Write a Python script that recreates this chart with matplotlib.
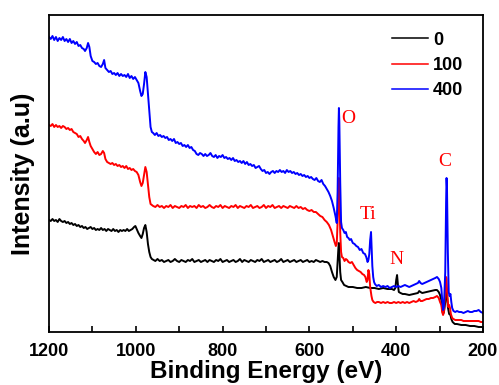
import matplotlib
matplotlib.use("Agg")
import matplotlib.pyplot as plt
from matplotlib.ticker import MultipleLocator

# ---------------- data ----------------
series_labels = ["0", "100", "400"]
series_colors = ["black", "red", "blue"]

e_400 = [1200, 1196, 1192, 1188, 1184, 1180, 1176, 1172, 1168, 1164, 1160, 1156, 1152, 1148, 1144,
         1140, 1136, 1132, 1128, 1124, 1120, 1117, 1113, 1110, 1107, 1104, 1100, 1096, 1092, 1088,
         1084, 1080, 1076, 1073, 1070, 1066, 1062, 1058, 1054, 1050, 1046, 1042, 1038, 1034, 1030,
         1026, 1022, 1018, 1014, 1010, 1006, 1002, 998, 994, 990, 987, 984, 981, 978, 975, 972, 969,
         966, 963, 960, 956, 952, 948, 944, 940, 936, 932, 928, 924, 920, 916, 912, 908, 904, 900,
         896, 892, 888, 884, 880, 876, 872, 868, 864, 860, 856, 852, 848, 844, 840, 836, 832, 828,
         824, 820, 816, 812, 808, 804, 800, 796, 792, 788, 784, 780, 776, 772, 768, 764, 760, 756,
         752, 748, 744, 740, 736, 732, 728, 724, 720, 716, 712, 708, 704, 700, 696, 692, 688, 684,
         680, 676, 672, 668, 664, 660, 656, 652, 648, 644, 640, 636, 632, 628, 624, 620, 616, 612,
         608, 604, 600, 596, 592, 588, 584, 580, 576, 572, 568, 564, 560, 556, 552, 548, 544, 540,
         537, 535, 533, 532, 531, 529, 527, 525, 522, 519, 516, 513, 510, 507, 504, 500, 496, 492,
         488, 484, 480, 476, 472, 469, 466, 464, 462, 460, 458, 457, 455, 453, 451, 449, 445, 440,
         435, 430, 425, 420, 415, 410, 405, 400, 395, 390, 385, 380, 375, 370, 365, 360, 355, 350,
         347, 344, 340, 335, 330, 325, 320, 315, 310, 306, 302, 299, 296, 294, 292, 290, 287, 285,
         284, 283, 281, 279, 277, 275, 273, 271, 268, 264, 260, 255, 250, 245, 240, 235, 230, 225,
         220, 215, 210, 205, 200]
i_400 = [295, 293, 296, 292, 295, 291, 294, 292, 295, 291, 293, 290, 293, 289, 291,
         288, 290, 286, 287, 284, 283, 281, 284, 289, 285, 276, 271, 270, 268, 269,
         266, 265, 268, 272, 264, 262, 260, 261, 258, 259, 257, 259, 256, 258, 256,
         257, 255, 258, 254, 256, 253, 255, 252, 249, 241, 236, 238, 248, 260, 255, 238, 220,
         205, 200, 199, 197, 199, 196, 197, 195, 196, 194, 195, 192, 193, 191, 193, 189, 190, 188,
         189, 186, 187, 185, 187, 184, 185, 182, 181, 178, 177, 179, 178, 176, 178, 176, 177, 179,
         176, 175, 177, 174, 176, 175, 177, 174, 175, 173, 174, 172, 174, 171, 172, 170, 171, 169,
         171, 168, 170, 167, 168, 166, 167, 164, 165, 166, 163, 161, 162, 159, 160, 158, 160, 161,
         159, 161, 160, 162, 160, 161, 159, 162, 160, 161, 159, 160, 158, 159, 157, 158, 156, 157,
         155, 156, 154, 155, 153, 152, 154, 151, 150, 152, 148, 146, 143, 140, 136, 131, 124, 116,
         109, 140, 205, 224, 210, 150, 110, 104, 102, 99, 100, 95, 94, 92, 93, 89, 88, 86,
         85, 82, 83, 79, 78, 75, 70, 72, 78, 92, 100, 88, 66, 55, 50, 48, 46, 47,
         45, 46, 45, 46, 44, 45, 46, 45, 46, 45, 46, 47, 46, 45, 46, 47, 48, 49,
         51, 49, 48, 49, 50, 51, 52, 53, 54, 55, 53, 50, 44, 32, 22, 25, 60, 130,
         154, 145, 80, 40, 36, 38, 30, 24, 21, 20, 21, 20, 20, 19, 20, 21, 20, 20,
         21, 21, 22, 20, 19]

e_100 = [1200, 1196, 1192, 1188, 1184, 1180, 1176, 1172, 1168, 1164, 1160, 1156, 1152, 1148, 1144,
         1140, 1136, 1132, 1128, 1124, 1120, 1117, 1113, 1110, 1107, 1104, 1100, 1096, 1092, 1088,
         1084, 1080, 1076, 1073, 1070, 1066, 1062, 1058, 1054, 1050, 1046, 1042, 1038, 1034, 1030,
         1026, 1022, 1018, 1014, 1010, 1006, 1002, 998, 994, 990, 987, 984, 981, 978, 975, 972, 969,
         966, 963, 960, 955, 950, 945, 940, 935, 930, 925, 920, 915, 910, 905, 900, 895, 890, 885,
         880, 875, 870, 865, 860, 855, 850, 845, 840, 835, 830, 825, 820, 815, 810, 805, 800, 795,
         790, 785, 780, 775, 770, 765, 760, 755, 750, 745, 740, 735, 730, 725, 720, 715, 710, 705,
         700, 695, 690, 685, 680, 675, 670, 665, 660, 655, 650, 645, 640, 635, 630, 625, 620, 615,
         610, 605, 600, 595, 590, 585, 580, 575, 570, 565, 560, 555, 550, 546, 542, 539, 537, 535,
         533, 532, 531, 529, 527, 525, 522, 519, 516, 513, 510, 506, 502, 498, 494, 490, 486, 482,
         478, 474, 471, 468, 466, 464, 462, 460, 457, 455, 452, 448, 444, 440, 435, 430, 425, 420,
         415, 410, 405, 400, 395, 390, 385, 380, 375, 370, 365, 360, 355, 350, 347, 344, 340, 335,
         330, 325, 320, 315, 310, 306, 302, 299, 296, 294, 292, 290, 287, 285, 284, 282, 280, 278,
         276, 274, 271, 268, 264, 260, 255, 250, 245, 240, 235, 230, 225, 220, 215, 210, 205, 200]
i_100 = [207, 206, 208, 205, 207, 205, 206, 204, 206, 205, 203, 204, 202, 203, 200,
         199, 198, 195, 196, 193, 191, 189, 192, 195, 190, 186, 183, 180, 178, 180,
         177, 178, 181, 179, 173, 170, 169, 168, 169, 167, 168, 166, 167, 165, 166,
         164, 166, 163, 164, 162, 163, 161, 160, 157, 150, 146, 149, 157, 165, 160, 148, 135,
         128, 127, 126, 125, 127, 125, 126, 124, 126, 125, 127, 124, 126, 125, 124, 126, 125, 127,
         124, 126, 125, 126, 124, 127, 125, 126, 124, 125, 127, 125, 124, 126, 125, 127, 124, 126,
         125, 124, 126, 125, 127, 124, 126, 125, 124, 126, 125, 127, 124, 125, 126, 124, 125, 127,
         124, 126, 125, 127, 124, 125, 126, 124, 126, 125, 124, 126, 125, 124, 126, 124, 125, 123,
         124, 122, 121, 122, 120, 120, 118, 116, 115, 112, 110, 107, 102, 96, 90, 86, 88, 110,
         140, 154, 140, 100, 80, 75, 74, 71, 73, 72, 70, 69, 70, 67, 64, 62, 61, 60,
         58, 57, 55, 50, 52, 62, 58, 45, 36, 32, 30, 29, 30, 30, 29, 30, 29, 30,
         29, 29, 30, 29, 30, 29, 30, 29, 30, 29, 30, 31, 30, 31, 33, 31, 31, 32,
         33, 33, 34, 34, 35, 36, 34, 30, 27, 20, 17, 20, 40, 55, 53, 35, 25, 27,
         24, 18, 14, 13, 12, 12, 12, 12, 11, 11, 11, 11, 11, 11, 11, 11, 10, 10]

e_0 = [1200, 1196, 1192, 1188, 1184, 1180, 1176, 1172, 1168, 1164, 1160, 1156, 1152, 1148, 1144,
       1140, 1136, 1132, 1128, 1124, 1120, 1116, 1112, 1108, 1104, 1100, 1096, 1092, 1088, 1084,
       1080, 1076, 1072, 1068, 1064, 1060, 1056, 1052, 1048, 1044, 1040, 1036, 1032, 1028, 1024,
       1020, 1016, 1012, 1008, 1004, 1001, 998, 994, 990, 987, 984, 981, 978, 975, 972, 969, 966,
       963, 959, 955, 950, 945, 940, 935, 930, 925, 920, 915, 910, 905, 900, 895, 890, 885, 880,
       875, 870, 865, 860, 855, 850, 845, 840, 835, 830, 825, 820, 815, 810, 805, 800, 795, 790,
       785, 780, 775, 770, 765, 760, 755, 750, 745, 740, 735, 730, 725, 720, 715, 710, 705, 700,
       695, 690, 685, 680, 675, 670, 665, 660, 655, 650, 645, 640, 635, 630, 625, 620, 615, 610,
       605, 600, 595, 590, 585, 580, 575, 570, 565, 560, 556, 552, 548, 544, 540, 537, 535, 533,
       532, 531, 529, 527, 524, 520, 515, 510, 500, 490, 480, 470, 460, 450, 440, 430, 420, 410,
       405, 402, 400, 398, 396, 394, 390, 385, 380, 370, 360, 350, 347, 344, 340, 330, 320, 310,
       306, 302, 299, 296, 294, 292, 290, 287, 285, 283, 281, 278, 275, 273, 270, 265, 260, 250,
       240, 230, 220, 210, 200]
i_0 = [112, 111, 113, 111, 112, 110, 113, 111, 110, 111, 109, 110, 108, 109, 107,
       108, 106, 107, 105, 106, 104, 105, 103, 104, 105, 103, 104, 102, 103, 102,
       104, 102, 103, 101, 103, 102, 101, 103, 101, 102, 100, 102, 101, 102, 101,
       103, 101, 102, 103, 105, 106, 103, 99, 96, 94, 98, 104, 107, 100, 88, 80, 75,
       73, 72, 71, 73, 71, 72, 70, 71, 72, 70, 71, 73, 71, 70, 72, 71, 70, 72,
       71, 73, 70, 71, 72, 70, 71, 72, 70, 72, 71, 70, 72, 71, 73, 70, 71, 72,
       70, 71, 72, 70, 71, 73, 70, 72, 71, 70, 72, 71, 70, 72, 71, 73, 70, 71,
       72, 70, 71, 72, 70, 71, 73, 70, 71, 72, 70, 71, 72, 70, 71, 72, 70, 71,
       72, 70, 71, 70, 72, 71, 70, 71, 70, 70, 69, 66, 60, 55, 52, 55, 70, 85,
       89, 80, 60, 52, 50, 47, 46, 45, 45, 44, 44, 45, 44, 44, 43, 44, 43, 43,
       42, 44, 52, 57, 47, 40, 39, 38, 38, 37, 38, 39, 41, 40, 39, 40, 41, 42,
       42, 40, 37, 32, 22, 18, 20, 30, 40, 38, 25, 18, 17, 13, 10, 8, 8, 7,
       7, 6, 6, 5, 5]

energies = [e_0, e_100, e_400]
intensities = [i_0, i_100, i_400]

peak_labels = ["O", "Ti", "N", "C"]
peak_label_e = [511, 465, 400, 288]
peak_label_i = [213, 117, 73, 170]

x_ticks = [1200, 1000, 800, 600, 400, 200]

# ---------------- plot ----------------
W, H, DPI = 499, 385, 100
fig = plt.figure(figsize=(W / DPI, H / DPI), dpi=DPI)
ax = fig.add_axes([49 / W, 1 - 332 / H, (483 - 49) / W, (332 - 15) / H])

for e, i, c, lab in zip(energies, intensities, series_colors, series_labels):
    ax.plot(e, i, color=c, lw=1.4, label=lab)

for t, e, i in zip(peak_labels, peak_label_e, peak_label_i):
    ax.text(e, i, t, color="red", fontsize=14, family="Liberation Serif",
            ha="center", va="center")

ax.set_xlim(1200, 200)
ax.set_ylim(0, 317)
ax.set_xticks(x_ticks)
ax.xaxis.set_minor_locator(MultipleLocator(100))
ax.set_yticks([])
ax.tick_params(axis="x", which="both", direction="in", length=4, width=1.2,
               top=False, pad=8)
for lbl in ax.get_xticklabels():
    lbl.set_fontweight("bold")
    lbl.set_fontsize(13)
    lbl.set_family("Liberation Sans")
for sp in ax.spines.values():
    sp.set_linewidth(1.3)

ax.set_xlabel("Binding Energy (eV)", fontsize=17.5, fontweight="bold",
              family="Liberation Sans", labelpad=0)
ax.set_ylabel("Intensity (a.u)", fontsize=18, fontweight="bold",
              family="Liberation Sans", labelpad=10)

leg = ax.legend(loc="upper right", frameon=False,
                prop={"family": "Liberation Sans", "weight": "bold", "size": 13},
                handlelength=1.95, handletextpad=0.3, labelspacing=0.45,
                borderaxespad=0.0, bbox_to_anchor=(0.971, 0.97))
for h in leg.get_lines():
    h.set_linewidth(1.1)
for t in leg.get_texts():
    t.set_ha("center")

fig.savefig("out.png", dpi=DPI)
